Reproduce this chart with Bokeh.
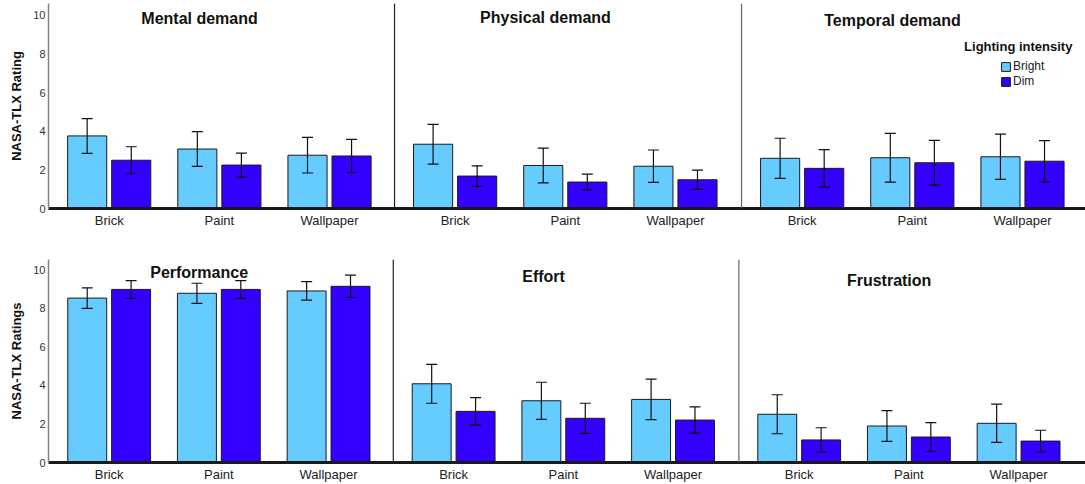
from bokeh.plotting import figure
from bokeh.models import (ColumnDataSource, Whisker, TeeHead, FixedTicker, Span,
                          Label, Legend, LegendItem, Range1d)
from bokeh.layouts import column
from bokeh.embed import file_html
from bokeh.resources import INLINE
from bokeh.core.properties import value

# ---------------- data ----------------
categories = ["Brick", "Paint", "Wallpaper"]
series_names = ["Bright", "Dim"]
legend_title = "Lighting intensity"
top_titles = ["Mental demand", "Physical demand", "Temporal demand"]
bottom_titles = ["Performance", "Effort", "Frustration"]
top_ylabel = "NASA-TLX Rating"
bottom_ylabel = "NASA-TLX Ratings"
y_ticks = [0, 2, 4, 6, 8, 10]

mental_bright = [3.76, 3.08, 2.76]
mental_bright_se = [0.90, 0.90, 0.92]
mental_dim = [2.50, 2.25, 2.72]
mental_dim_se = [0.70, 0.62, 0.86]

physical_bright = [3.33, 2.23, 2.19]
physical_bright_se = [1.03, 0.90, 0.84]
physical_dim = [1.68, 1.37, 1.49]
physical_dim_se = [0.53, 0.41, 0.50]

temporal_bright = [2.60, 2.63, 2.68]
temporal_bright_se = [1.04, 1.26, 1.17]
temporal_dim = [2.08, 2.37, 2.45]
temporal_dim_se = [0.97, 1.16, 1.07]

performance_bright = [8.52, 8.77, 8.89]
performance_bright_se = [0.53, 0.52, 0.48]
performance_dim = [8.97, 8.97, 9.13]
performance_dim_se = [0.46, 0.46, 0.58]

effort_bright = [4.08, 3.20, 3.27]
effort_bright_se = [1.01, 0.96, 1.05]
effort_dim = [2.65, 2.29, 2.20]
effort_dim_se = [0.71, 0.78, 0.68]

frustration_bright = [2.50, 1.89, 2.03]
frustration_bright_se = [1.01, 0.80, 0.99]
frustration_dim = [1.17, 1.32, 1.11]
frustration_dim_se = [0.63, 0.75, 0.56]

# ---------------- style / layout ----------------
FONT = "Liberation Sans"
BRIGHT = "#66CCFF"
DIM = "#3300FF"
PANEL_OFFSETS = [0, 314, 629]
GROUP_STEP = 100
BAR_OFFSET = 20
BAR_W = 35.5
DIVIDERS = [259, 574]
TITLE_DX = 82


def build_row(titles, data, title_y, ylabel, height, b_left, b_top, b_bottom,
              x_start, x_end, y_end, legend=False):
    p = figure(width=1085, height=height, x_range=Range1d(x_start, x_end),
               y_range=Range1d(0, y_end), output_backend="svg",
               toolbar_location=None, min_border_left=b_left, min_border_right=0,
               min_border_top=b_top, min_border_bottom=b_bottom)
    p.outline_line_color = None
    p.grid.visible = False
    p.background_fill_color = "white"

    bx, bt, dx, dt = [], [], [], []
    wx, wl, wu = [], [], []
    ticks, overrides = [], {}
    for k, (bright, bright_se, dim, dim_se) in enumerate(data):
        base = PANEL_OFFSETS[k]
        for g, cat in enumerate(categories):
            c = base + g * GROUP_STEP
            ticks.append(c)
            overrides[c] = cat
            bx.append(c - BAR_OFFSET); bt.append(bright[g])
            dx.append(c + BAR_OFFSET); dt.append(dim[g])
            wx += [c - BAR_OFFSET, c + BAR_OFFSET]
            wl += [bright[g] - bright_se[g], dim[g] - dim_se[g]]
            wu += [bright[g] + bright_se[g], dim[g] + dim_se[g]]

    rb = p.vbar(x="x", top="top", bottom=0, width=BAR_W,
                source=ColumnDataSource(dict(x=bx, top=bt)),
                fill_color=BRIGHT, line_color="#1a1a1a", line_width=1)
    rd = p.vbar(x="x", top="top", bottom=0, width=BAR_W,
                source=ColumnDataSource(dict(x=dx, top=dt)),
                fill_color=DIM, line_color="#1a1a1a", line_width=1)

    wsrc = ColumnDataSource(dict(base=wx, lower=wl, upper=wu))
    p.add_layout(Whisker(base="base", lower="lower", upper="upper", source=wsrc,
                         dimension="height", level="overlay",
                         line_color="#111111", line_width=1.2,
                         upper_head=TeeHead(size=11, line_color="#111111", line_width=1.2),
                         lower_head=TeeHead(size=11, line_color="#111111", line_width=1.2)))

    for loc, col in zip(DIVIDERS, ["#222222", "#666666"]):
        p.add_layout(Span(location=loc, dimension="height", line_color=col,
                          line_width=1.2))

    p.text(x=[o + TITLE_DX for o in PANEL_OFFSETS], y=title_y, text=titles,
           text_font=value(FONT), text_font_style="bold", text_font_size="16px",
           text_align="center", text_baseline="middle", text_color="#111111")

    xa = p.xaxis[0]
    xa.ticker = FixedTicker(ticks=ticks)
    xa.major_label_overrides = overrides
    xa.axis_line_width = 3
    xa.axis_line_color = "#1a1a1a"
    xa.major_tick_out = 0
    xa.major_tick_in = 0
    xa.minor_tick_out = 0
    xa.minor_tick_in = 0
    xa.major_label_standoff = 4
    xa.major_label_text_font = FONT
    xa.major_label_text_font_size = "13px"
    xa.major_label_text_color = "#222222"

    ya = p.yaxis[0]
    ya.ticker = FixedTicker(ticks=y_ticks)
    ya.axis_line_color = "#808080"
    ya.axis_line_width = 1.5
    ya.major_tick_out = 0
    ya.major_tick_in = 0
    ya.minor_tick_out = 0
    ya.minor_tick_in = 0
    ya.major_label_standoff = 3
    ya.major_label_text_font = FONT
    ya.major_label_text_font_size = "11px"
    ya.major_label_text_color = "#333333"
    ya.axis_label = ylabel
    ya.axis_label_standoff = 6
    ya.axis_label_text_font = FONT
    ya.axis_label_text_font_style = "bold"
    ya.axis_label_text_font_size = "13px"
    ya.axis_label_text_color = "#111111"

    if legend:
        lg = Legend(items=[LegendItem(label=series_names[0], renderers=[rb]),
                           LegendItem(label=series_names[1], renderers=[rd])],
                    location=(952, 120), orientation="vertical",
                    glyph_width=11, glyph_height=11, label_height=12,
                    label_standoff=2, spacing=1, padding=0, margin=0,
                    label_text_font=FONT, label_text_font_size="12px",
                    label_text_color="#222222",
                    border_line_color=None, background_fill_alpha=0)
        p.add_layout(lg)
        p.add_layout(Label(x=776, y=8.38, text=legend_title, text_font=FONT,
                           text_font_style="bold", text_font_size="13px",
                           text_baseline="middle", text_align="left",
                           text_color="#111111"))
    return p


top = build_row(top_titles,
                [(mental_bright, mental_bright_se, mental_dim, mental_dim_se),
                 (physical_bright, physical_bright_se, physical_dim, physical_dim_se),
                 (temporal_bright, temporal_bright_se, temporal_dim, temporal_dim_se)],
                [9.85, 9.92, 9.72], top_ylabel, 240, 43, 3, 32,
                -55.1, 886.2, 10.62, legend=True)

bottom = build_row(bottom_titles,
                   [(performance_bright, performance_bright_se, performance_dim, performance_dim_se),
                    (effort_bright, effort_bright_se, effort_dim, effort_dim_se),
                    (frustration_bright, frustration_bright_se, frustration_dim, frustration_dim_se)],
                   [9.83, 9.66, 9.44], bottom_ylabel, 244, 48, 19, 22,
                   -55.3, 890, 10.52)

layout = column(top, bottom)
open("out.html", "w").write(file_html(layout, INLINE))
